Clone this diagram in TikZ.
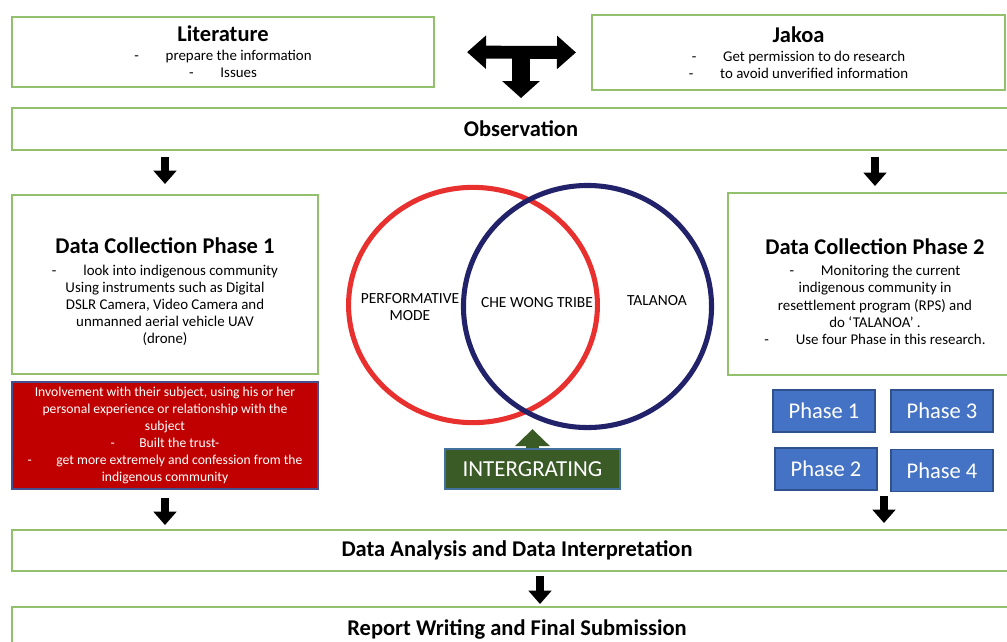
\documentclass[tikz,border=0pt]{standalone}
\usepackage{fontspec}
\setmainfont{Carlito}
\usepackage{xcolor}
\usetikzlibrary{arrows.meta,shapes.geometric,calc}

\definecolor{boxgreen}{RGB}{146,192,108}
\definecolor{trustred}{RGB}{192,0,0}
\definecolor{trustedge}{RGB}{70,80,140}
\definecolor{vennred}{RGB}{232,48,47}
\definecolor{vennblue}{RGB}{34,34,107}
\definecolor{intgreen}{RGB}{58,90,38}
\definecolor{intedge}{RGB}{65,113,156}
\definecolor{phaseblue}{RGB}{68,114,196}
\definecolor{phaseedge}{RGB}{47,82,143}

\newcommand{\boxtitle}[1]{{\fontsize{16}{19}\selectfont\bfseries #1}}
\newcommand{\dashitem}{-\hspace{1.8em}}

\begin{document}
\begin{tikzpicture}[x=0.025cm, y=-0.025cm,
    box/.style={draw=boxgreen, line width=1.4pt, align=center, inner sep=2pt,
                font=\fontsize{10.6}{12.2}\selectfont},
    bar/.style={box, font=\fontsize{16}{19}\selectfont\bfseries},
    phase/.style={draw=phaseedge, fill=phaseblue, text=white, line width=0.8pt,
                  minimum width=2.55cm, minimum height=1.05cm,
                  font=\fontsize{16}{19}\selectfont},
    venn/.style={ellipse, line width=3.6pt},
    vennlbl/.style={align=center, font=\fontsize{11}{12.5}\selectfont},
    down/.style={line width=5.7pt, -{Triangle[length=9.5pt, width=16pt]}}]
    \useasboundingbox (0,0) rectangle (1007,641);

    % top row
    \node[box, minimum width=10.55cm, minimum height=1.75cm] (lit) at (223,52)
        {\boxtitle{Literature}\\[1pt]
         \dashitem prepare the information\\
         \dashitem Issues};
    \node[box, minimum width=10.325cm, minimum height=1.875cm] (jak) at (798.5,52.5)
        {\boxtitle{Jakoa}\\[1pt]
         \dashitem Get permission to do research\\
         \dashitem to avoid unverified information};
    \node[bar, minimum width=25.45cm, minimum height=1.05cm] (obs) at (521,129) {Observation};

    % T arrow
    \coordinate (tee) at (521,51);
    \draw[line width=9.2pt, {Triangle[length=13.5pt, width=23pt]}-{Triangle[length=13.5pt, width=23pt]},
          shorten <=0.8cm, shorten >=0.375cm] (lit.east) -- (jak.west);
    \draw[line width=12.8pt, -{Triangle[length=12pt, width=26pt]}, shorten >=0.225cm]
        (tee) -- (tee |- obs.north);

    % data collection
    \node[box, minimum width=7.65cm, minimum height=4.475cm] (dc1) at (165,284.5)
        {\rule{0pt}{22pt}\boxtitle{Data Collection Phase 1}\\[3pt]
         \dashitem look into indigenous community\\
         Using instruments such as Digital\\
         DSLR Camera, Video Camera and\\
         unmanned aerial vehicle UAV\\
         (drone)};
    \node[draw=trustedge, fill=trustred, text=white, line width=1pt, align=center,
          minimum width=7.65cm, minimum height=2.675cm, inner sep=1pt,
          font=\fontsize{9.7}{12}\selectfont] (trust) at (165,435.5)
        {Involvement with their subject, using his or her\\
         personal experience or relationship with the\\
         subject\\
         \dashitem Built the trust-\\
         \dashitem get more extremely and confession from the\\
         indigenous community};
    \node[box, minimum width=7.35cm, minimum height=4.55cm] (dc2) at (875,284)
        {\rule{0pt}{22pt}\boxtitle{Data Collection Phase 2}\\[3pt]
         \dashitem Monitoring the current\\
         indigenous community in\\
         resettlement program (RPS) and\\
         do ‘TALANOA’ .\\
         \dashitem Use four Phase in this research.};

    \node[phase] (ph1) at (824,411) {Phase 1};
    \node[phase] (ph3) at (942,411) {Phase 3};
    \node[phase] (ph2) at (826,469) {Phase 2};
    \node[phase] (ph4) at (942,470.5) {Phase 4};

    % venn
    \node[venn, draw=vennred, minimum width=6.22cm, minimum height=5.88cm] (perf) at (473,305) {};
    \node[venn, draw=vennblue, minimum width=6.2cm, minimum height=6.05cm] (tal) at (587.5,306.5) {};
    \node[vennlbl] (perflbl) at (410,307) {PERFORMATIVE\\MODE};
    \node[vennlbl] (chelbl) at (537,303) {CHE WONG TRIBE};
    \node[vennlbl] (tallbl) at (657,301) {TALANOA};

    \node[draw=intedge, fill=intgreen, text=white, line width=0.8pt,
          minimum width=4.375cm, minimum height=1cm,
          font=\fontsize{16.3}{19}\selectfont] (intg) at (532.5,469) {INTERGRATING};
    \draw[intgreen, line width=9.2pt, -{Triangle[length=12pt, width=24pt]}, shorten >=0.1cm]
        (intg.north) -- (intg.north |- perf.south);

    % bottom
    \node[bar, minimum width=25.25cm, minimum height=1.025cm] (ana) at (517,550.5)
        {Data Analysis and Data Interpretation};
    \node[bar, minimum width=25.25cm, minimum height=1.1cm] (rep) at (517,629)
        {Report Writing and Final Submission};

    \coordinate (pj) at ($(ph2.south east)!.5!(ph4.south west)$);
    \draw[down, shorten <=0.15cm, shorten >=0.25cm] (obs.south -| dc1.north) -- (dc1.north);
    \draw[down, shorten <=0.15cm, shorten >=0.15cm] (obs.south -| dc2.north) -- (dc2.north);
    \draw[down, shorten <=0.2cm, shorten >=0.1cm] (trust.south) -- (trust.south |- ana.north);
    \draw[down, shorten <=0.12cm, shorten >=0.15cm] (pj) -- (pj |- ana.north);
    \draw[down, shorten <=0.1cm, shorten >=0.05cm] ([xshift=0.575cm]ana.south) -- ([xshift=0.575cm]rep.north);
\end{tikzpicture}
\end{document}
